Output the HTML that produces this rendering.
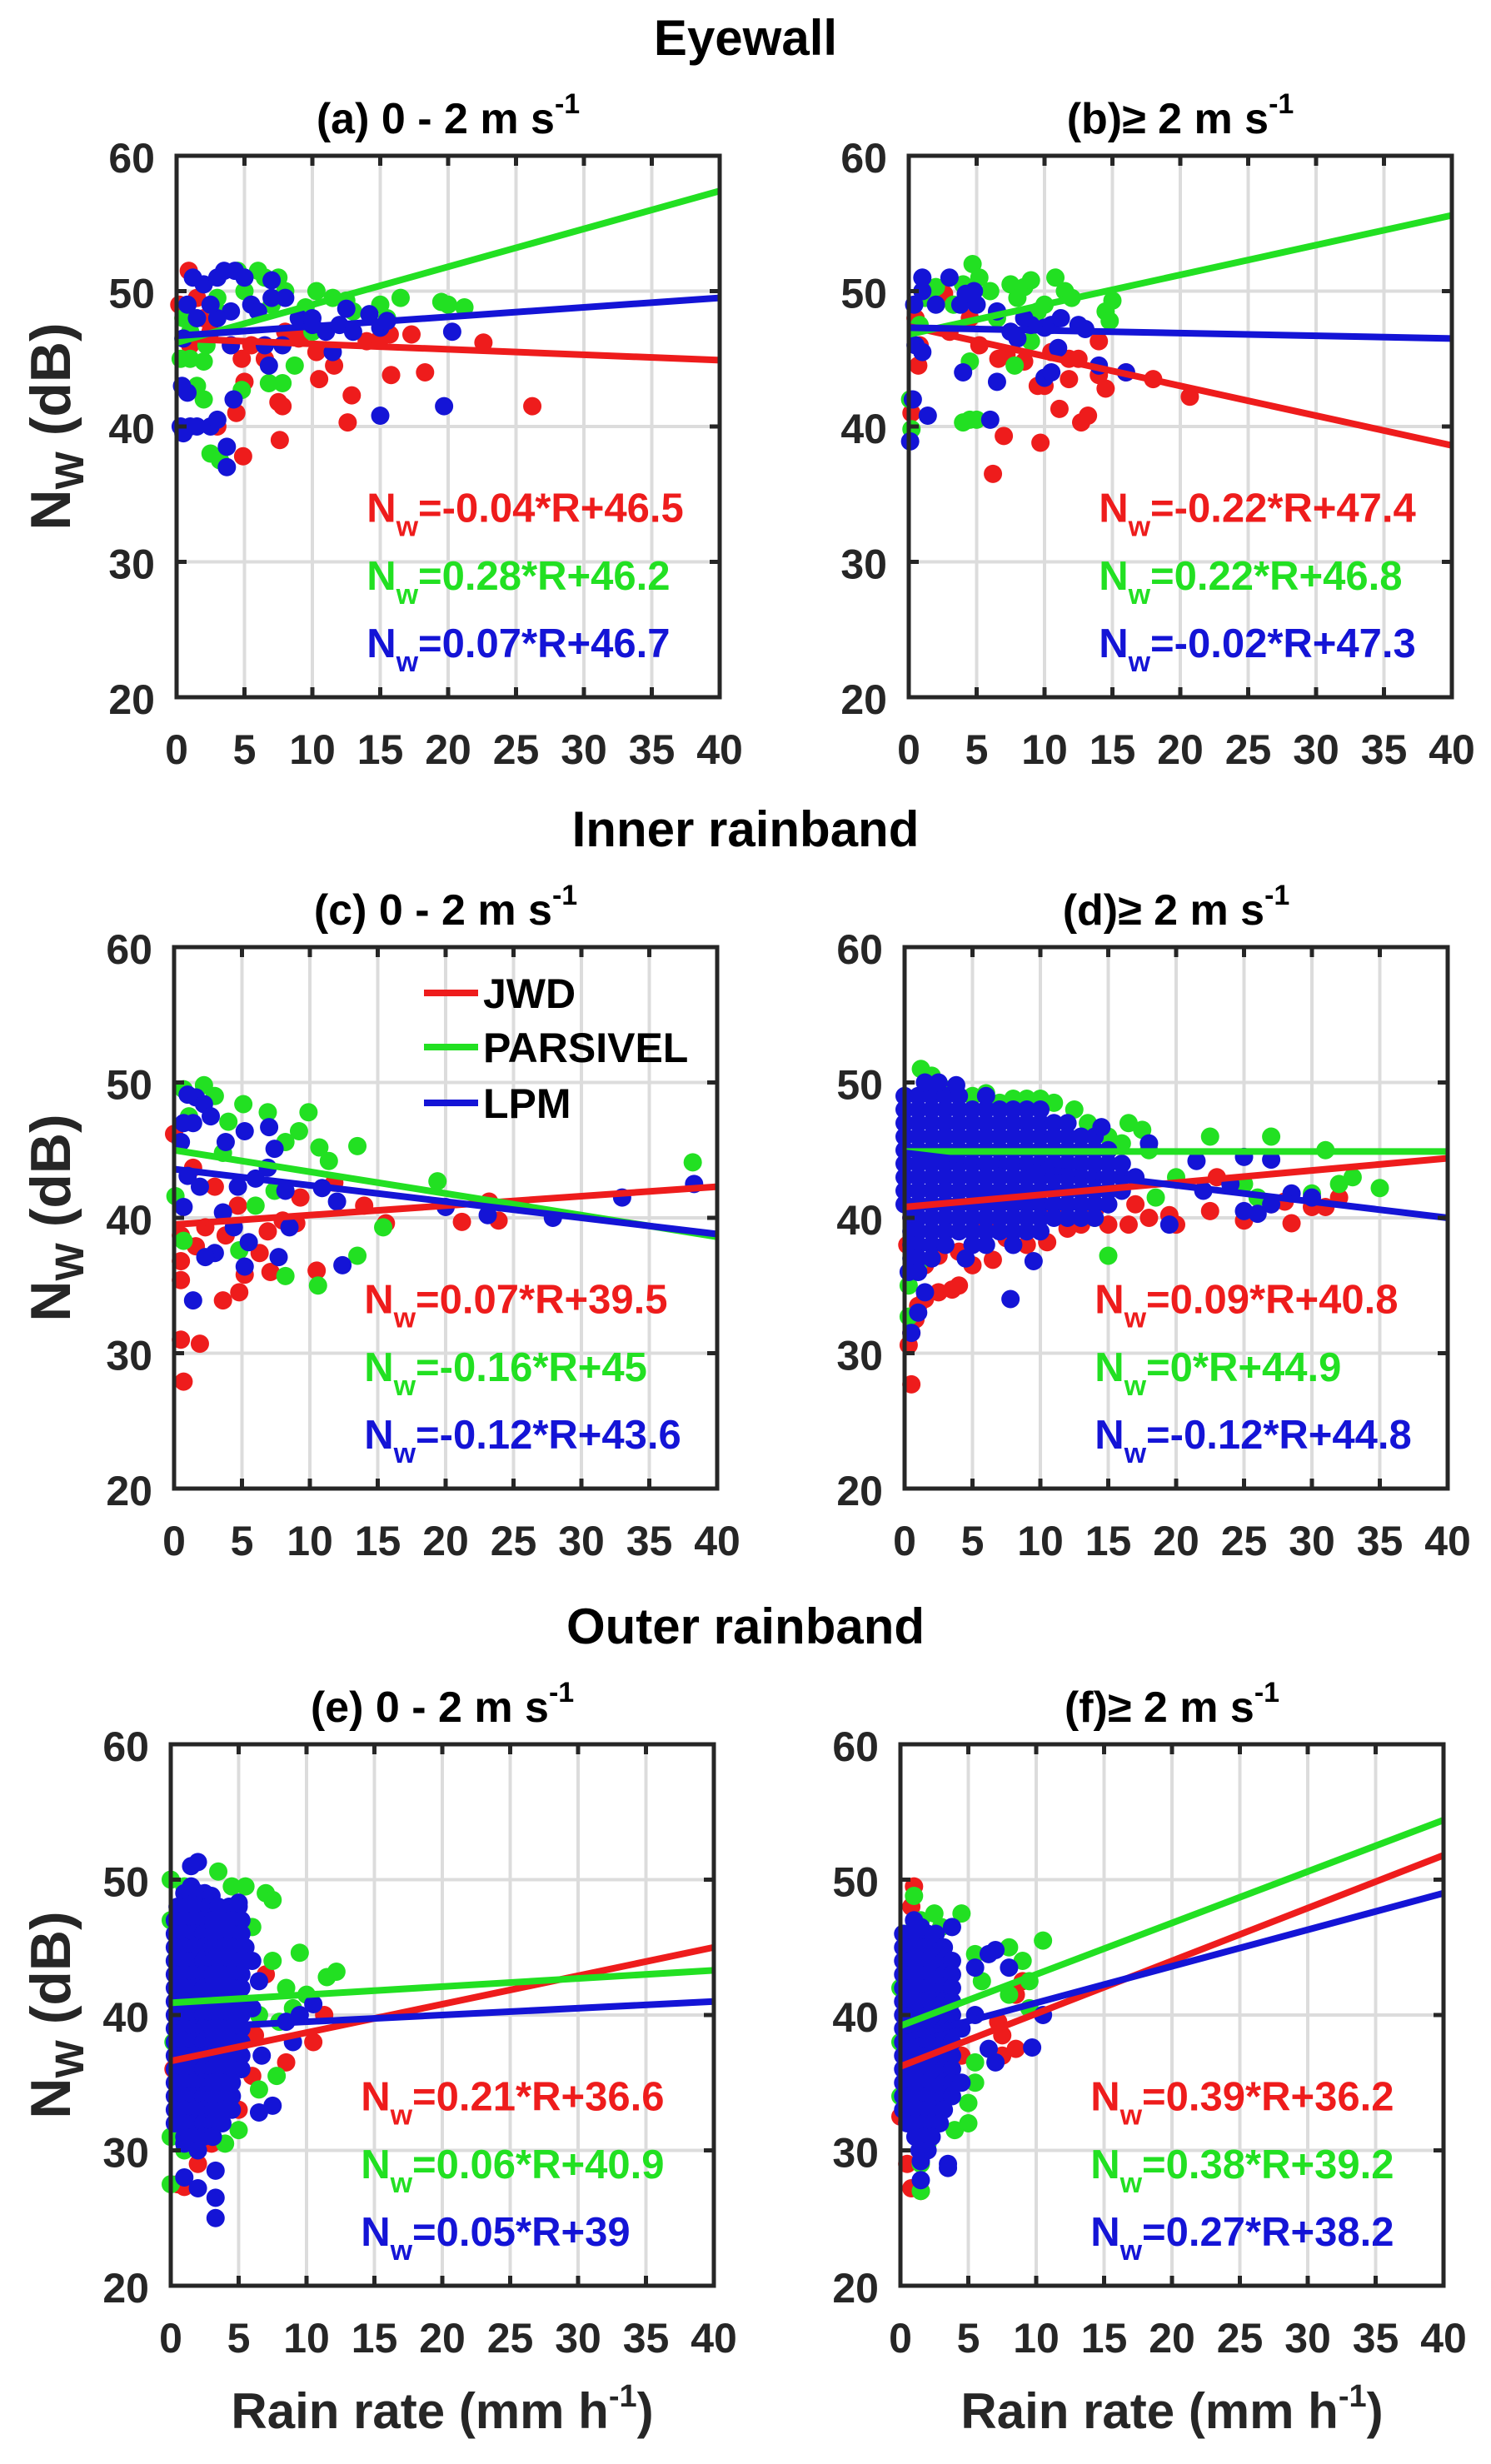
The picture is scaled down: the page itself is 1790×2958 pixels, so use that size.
<!DOCTYPE html>
<html>
<head>
<meta charset="utf-8">
<style>
html,body{margin:0;padding:0;background:#fff;}
svg{display:block;}
text{font-family:"Liberation Sans",Arial,sans-serif;font-weight:bold;}
</style>
</head>
<body>
<svg id="fig" xmlns="http://www.w3.org/2000/svg" width="1790" height="2958" viewBox="0 0 1790 2958">
<rect x="0" y="0" width="1790" height="2958" fill="#fff"/>
<text x="895" y="66" font-size="60" text-anchor="middle" fill="#000">Eyewall</text>
<text x="895" y="1016" font-size="60" text-anchor="middle" fill="#000">Inner rainband</text>
<text x="895" y="1973" font-size="60" text-anchor="middle" fill="#000">Outer rainband</text>
</svg>
<script>
// ===== data =====
const xTicks = [0,5,10,15,20,25,30,35,40];
const yTicks = [20,30,40,50,60];
const seriesNames = ["JWD","PARSIVEL","LPM"];
const seriesColors = ["#ee1c1c","#22e022","#1414d6"];

const fit_slopes_a = [-0.04,0.28,0.07];
const fit_intercepts_a = [46.5,46.2,46.7];
const fit_slopes_b = [-0.22,0.22,-0.02];
const fit_intercepts_b = [47.4,46.8,47.3];
const fit_slopes_c = [0.07,-0.16,-0.12];
const fit_intercepts_c = [39.5,45,43.6];
const fit_slopes_d = [0.09,0,-0.12];
const fit_intercepts_d = [40.8,44.9,44.8];
const fit_slopes_e = [0.21,0.06,0.05];
const fit_intercepts_e = [36.6,40.9,39];
const fit_slopes_f = [0.39,0.38,0.27];
const fit_intercepts_f = [36.2,39.2,38.2];

const a_jwd = [[0.9,51.5],[0.2,49],[1.5,49.5],[2.5,47],[4,46],[4.8,45],[5,43.3],[4.4,41],[4.9,37.8],[7.6,39],[7.5,41.8],[7.8,41.5],[6.5,45],[8,47],[9,46.5],[10.3,45.5],[10.5,43.5],[11.6,44.5],[12.6,40.3],[12.9,42.3],[14,46.3],[15,46.5],[15.8,43.8],[15.7,46.8],[17.3,46.8],[18.3,44],[22.6,46.2],[26.2,41.5],[3,40],[1,46],[2,48],[5.5,46],[9.5,47]];
const a_parsivel = [[0.3,45],[1,45],[1.5,43],[2,42],[2.2,46],[2.5,38],[3.2,37.5],[2,44.8],[3,49.5],[4.5,51.5],[5,50],[6,51.5],[6.5,51],[7.5,51],[8,50],[7,49],[8.7,44.5],[7.8,43.2],[6.8,43.2],[4.8,42.7],[9.5,48.8],[10.3,50],[11.5,49.5],[12.5,49.3],[13,48.5],[15,49],[16.5,49.5],[15.5,48],[19.5,49.2],[20,49],[21.2,48.8],[1,47],[0.5,48],[3,48.5],[10,47]];
const a_lpm = [[0.3,40],[0.4,43],[0.8,42.5],[1,40],[0.5,39.5],[1.5,40],[2.5,40],[3,40.5],[3.7,38.5],[3.7,37],[4.2,42],[0.8,49],[1.2,51],[2,50.5],[3,51],[3.5,51.5],[4.3,51.5],[5,51],[5.5,49],[4,48.5],[3,48],[4,46],[6.5,46],[6.8,44.5],[7,49.5],[7,50.8],[8,49.5],[7.8,46],[9,48],[10,47.5],[10,48],[11,47],[11.5,45.5],[12,47.5],[12.5,48.7],[13,47],[14.2,48.3],[15,47.3],[15.5,47.8],[15,40.8],[19.7,41.5],[20.3,47],[0.5,46.5],[1.5,48],[2.5,49],[6,48.5]];

const b_jwd = [[0.2,41],[0.7,44.5],[0.8,46],[0.5,48],[1.5,49.5],[2.6,49.8],[4.5,48],[5.2,46],[6.6,45],[7.2,45.3],[7,39.3],[6.2,36.5],[9.5,43],[10,43],[9.7,38.8],[10.5,45.5],[11.1,41.3],[11.8,45],[11.8,43.5],[12.5,45],[12.7,40.3],[13.2,40.8],[14,43.8],[14.5,42.8],[14,46.3],[16,44],[18,43.5],[20.7,42.2],[8.5,44.8],[3,47]];
const b_parsivel = [[0.1,42],[0.2,39.8],[0.8,47.5],[1.2,49.5],[2,50.3],[3.3,49],[4,50.5],[4.7,52],[5.2,51],[4.5,40.5],[4,40.3],[5,40.5],[4.5,44.8],[6,50],[7.5,50.5],[8,49.5],[8.5,50.3],[9,50.8],[9,46.3],[7.8,44.5],[10,49],[10.8,51],[11.5,50],[12,49.5],[14.5,48.5],[15,49.3],[14.8,47.8],[9.5,48.5],[6.5,48]];
const b_lpm = [[0.1,38.9],[0.3,42],[1.4,40.8],[0.5,46],[1,45.5],[0.4,49],[1,51],[1,50],[2,49],[3,51],[3.8,49],[4.2,49.8],[4.8,50],[5,49],[4,44],[6.5,43.3],[6,40.5],[6.5,48.5],[7.5,47],[8,46.5],[9,47.5],[10,47.3],[10.5,47.5],[11.2,48],[11,45.8],[10,43.6],[10.5,44],[12.5,47.5],[13,47.2],[14,44.5],[16,44],[8.5,48]];

const c_jwd = [[0,46.2],[0.5,38.7],[0.5,36.8],[0.5,35.4],[0.5,31],[1.9,30.7],[0.7,27.9],[3.6,33.9],[4.8,34.5],[5.2,35.8],[7.1,36],[10.5,36.1],[6.3,37.4],[3.8,38.7],[2.3,39.3],[1.6,37.9],[6.9,39],[9,39.6],[9.3,41.5],[14,40.9],[15.6,39.6],[21.2,39.7],[23.2,41.2],[23.9,39.8],[3,42.3],[1.4,43.7],[4.7,40.9],[8,39.8],[11.8,42.6]];
const c_parsivel = [[0.7,49.5],[2.2,49.8],[3,49],[4,47.1],[5.1,48.4],[6.9,47.8],[9.9,47.8],[9.2,46.4],[8.2,45.6],[10.7,45.2],[11.4,44.2],[13.5,45.3],[19.4,42.7],[38.2,44.1],[15.4,39.3],[13.5,37.2],[10.6,35],[8.2,35.7],[4.8,37.6],[0.7,38.3],[0.1,41.6],[6,40.9],[7.4,42],[3.6,44.8],[1.1,47.5]];
const c_lpm = [[1,49.1],[1.6,48.9],[2.2,48.4],[2.7,47.5],[0.7,47],[1.4,47],[0.5,45.6],[1,43.1],[1.9,42.3],[3.8,45.6],[5.2,46.4],[7,46.7],[7.4,45.1],[6,42.9],[4.7,42.3],[3.6,40.4],[4.4,39.3],[5.5,38.2],[5.2,36.4],[3,37.4],[2.3,37.1],[7.7,37.1],[8.5,39.3],[10.9,42.2],[12,41.2],[12.4,36.5],[1.4,33.9],[0.7,40.8],[20,40.8],[23.1,40.2],[27.9,40],[33,41.5],[38.3,42.5],[6.9,43.7],[8.2,42]];

const d_jwd = [[0.5,27.7],[0.3,30.6],[0.5,31.5],[0.8,32.5],[1,33.5],[1.5,34],[2.5,34.5],[3.5,34.7],[4,35],[1.5,36.5],[2.5,37.2],[4,37.5],[5,36.5],[6.5,36.9],[7.5,38.5],[9,38],[10.5,38.2],[12,39.2],[13,39.5],[15,39.5],[16.5,39.5],[18,40],[19.5,40.2],[20,39.5],[22.5,40.5],[25,39.8],[28.5,39.6],[30,40.8],[31,40.8],[32,41.5],[0.2,38],[0.5,40],[3,39],[6,39.5],[8,40],[11,40.5],[14,40.5],[17,41],[23,43],[27,41],[28,41.2]];
const d_parsivel = [[0.3,32.7],[0.3,35],[1,36.5],[1.2,51],[2,50.5],[3,49.5],[5,49],[6,49.2],[7,48.5],[8,48.8],[9,48.8],[10,48.8],[11,48.5],[12.5,48],[13.5,47],[15,46],[16.5,47],[17.5,46.5],[16,45.5],[18,45],[22.5,46],[27,46],[31,45],[33,43],[35,42.2],[25,42.5],[26,41.5],[20,43],[15,37.2],[14,40],[18.5,41.5],[30,41.8],[32,42.5]];
const d_lpm = [[0,49],[1,49],[2,49],[3,49],[4,49],[6,49],[1.5,50],[2.5,50],[3.8,49.8],
[0,48],[1,48],[2,48],[3,48],[4,48],[5,48],[6,48],[7,48],[8,48],[9,48],[10,48],
[0,47],[1,47],[2,47],[3,47],[4,47],[5,47],[6,47],[7,47],[8,47],[9,47],[10,47],[11,47],[12,47],
[0,46],[1,46],[2,46],[3,46],[4,46],[5,46],[6,46],[7,46],[8,46],[9,46],[10,46],[11,46],[12,46],[13,46],[14,46],
[0,45],[1,45],[2,45],[3,45],[4,45],[5,45],[6,45],[7,45],[8,45],[9,45],[10,45],[11,45],[12,45],[13,45],[14,45],[15,45],
[0,44],[1,44],[2,44],[3,44],[4,44],[5,44],[6,44],[7,44],[8,44],[9,44],[10,44],[11,44],[12,44],[13,44],[14,44],[15,44],[16,44],
[0,43],[1,43],[2,43],[3,43],[4,43],[5,43],[6,43],[7,43],[8,43],[9,43],[10,43],[11,43],[12,43],[13,43],[14,43],[15,43],[16,43],[17,43],
[0,42],[1,42],[2,42],[3,42],[4,42],[5,42],[6,42],[7,42],[8,42],[9,42],[10,42],[11,42],[12,42],[13,42],[14,42],[15,42],[16,42],
[0,41],[1,41],[2,41],[3,41],[4,41],[5,41],[6,41],[7,41],[8,41],[9,41],[10,41],[11,41],[12,41],[13,41],[14,41],[15,41],
[0.5,40],[1,40],[2,40],[3,40],[4,40],[5,40],[6,40],[7,40],[8,40],[9,40],[10,40],[11,40],[12,40],[13,40],[14,40],
[0.5,39],[1,39],[2,39],[3,39],[4,39],[5,39],[6,39],[7,39],[8,39],[9,39],[10,39],
[0.5,38],[1,38],[2,38],[3,38],[5,38],[6,38],[8,38],[0.5,37],[1,37],[2,37],[4.5,37],[0.3,36],[1,36],
[7.8,34],[0.5,31.5],[1,33],[1.5,34.5],[9.5,36.8],[19.5,39.5],[21.5,44.2],[25,44.5],[27,44.3],[26,40.3],[25,40.5],[28.5,41.8],[30,41.5],[14.5,46.7],[18,45.5],[22,42],[24,42.5],[27,41]];

const e_jwd = [[0.5,27.5],[1,27.3],[2,29],[3,30.5],[5,33],[6,35.5],[8.5,36.5],[10.5,38],[11.3,40],[7,43],[0.2,36],[0.5,45],[1,48],[6.2,38.5]];
const e_parsivel = [[0,27.5],[0,31],[0,47],[1,49.5],[3.5,50.6],[4.5,49.5],[5.5,49.5],[7,49],[7.5,48.5],[6,46.5],[7.5,44],[9.5,44.6],[11.5,42.8],[12.2,43.2],[10,41.5],[8.5,42],[7.8,35.5],[6.5,34.5],[5,31.5],[4,30.5],[1,30],[2,31],[0.5,35],[0.5,40],[0.3,44],[9,40.5],[8,39.5],[0,50],[0.2,38],[6.5,40]];
const e_lpm = [[1,49],[1.5,49.5],[2,49],[2.5,49],[3,48.8],[1.5,51],[2,51.3],
[0.5,48],[1.2,48],[2,48],[2.8,48],[3.5,48],[4.3,48],[5,48],
[0.3,47],[1,47],[1.7,47],[2.4,47],[3.1,47],[3.8,47],[4.5,47],[5.2,47],
[0.3,46],[1,46],[1.7,46],[2.4,46],[3.1,46],[3.8,46],[4.5,46],[5.2,46],
[0.3,45],[1,45],[1.7,45],[2.4,45],[3.1,45],[3.8,45],[4.5,45],[5.2,45],
[0.3,44],[1,44],[1.7,44],[2.4,44],[3.1,44],[3.8,44],[4.5,44],[5.2,44],
[0.3,43],[1,43],[1.7,43],[2.4,43],[3.1,43],[3.8,43],[4.5,43],[5.2,43],
[0.3,42],[1,42],[1.7,42],[2.4,42],[3.1,42],[3.8,42],[4.5,42],[5.2,42],
[0.3,41],[1,41],[1.7,41],[2.4,41],[3.1,41],[3.8,41],[4.5,41],[5.2,41],
[0.3,40],[1,40],[1.7,40],[2.4,40],[3.1,40],[3.8,40],[4.5,40],[5.2,40],
[0.3,39],[1,39],[1.7,39],[2.4,39],[3.1,39],[3.8,39],[4.5,39],[5.2,39],
[0.3,38],[1,38],[1.7,38],[2.4,38],[3.1,38],[3.8,38],[4.5,38],[5.2,38],
[0.3,37],[1,37],[1.7,37],[2.4,37],[3.1,37],[3.8,37],[4.5,37],[5.2,37],
[0.3,36],[1,36],[1.7,36],[2.4,36],[3.1,36],[3.8,36],[4.5,36],[5.2,36],
[0.3,35],[1,35],[1.7,35],[2.4,35],[3.1,35],[3.8,35],[4.5,35],
[0.3,34],[1,34],[1.7,34],[2.4,34],[3.1,34],[3.8,34],[4.5,34],
[0.3,33],[1,33],[1.7,33],[2.4,33],[3.1,33],[3.8,33],[4.5,33],
[0.3,32],[1,32],[1.7,32],[2.4,32],[3.1,32],[3.8,32],
[1,31],[1.7,31],[2.4,31],[3.1,31],[1,30.5],[2,30],
[3.3,28.5],[3.3,26.5],[3.3,25],[2,27.2],[1,28],[6.5,32.8],[7.5,33.3],[6.7,37],[8.5,39.5],[9,38],[9.5,40],[10.5,40.8],[6.5,42.5],[5.5,45],[5,48.3],[6,40.5],[6,44]];

const f_jwd = [[1,49.5],[0.8,48],[0.5,29],[0.8,27.2],[1.5,27],[0,32.5],[7.2,39.5],[7.5,38.5],[8.5,37.5],[7.5,37],[9,42.5],[8.5,41.5],[4.5,37],[0.2,38],[0.3,44],[3,35]];
const f_parsivel = [[1,48.8],[1.5,47],[2.5,47.5],[4.5,47.5],[5.5,44.5],[8,45],[9,44],[10.5,45.5],[9.5,42.5],[8,41.5],[5.5,36.5],[5.5,35],[5,33.5],[5,32],[4,31.5],[2,30.5],[1.5,27],[1.5,29],[0,42],[0,38],[0,34],[0.3,46],[3,46.5],[6,42.5],[9.5,40.5]];
const f_lpm = [[0.2,46],[0.8,46],[1.4,46],[2,46],[2.6,46],[0.2,45],[0.8,45],[1.4,45],[2,45],[2.6,45],[3.2,45],
[0.2,44],[0.8,44],[1.4,44],[2,44],[2.6,44],[3.2,44],[3.8,44],[0.2,43],[0.8,43],[1.4,43],[2,43],[2.6,43],[3.2,43],[3.8,43],
[0.2,42],[0.8,42],[1.4,42],[2,42],[2.6,42],[3.2,42],[3.8,42],[0.2,41],[0.8,41],[1.4,41],[2,41],[2.6,41],[3.2,41],[3.8,41],
[0.2,40],[0.8,40],[1.4,40],[2,40],[2.6,40],[3.2,40],[3.8,40],[0.2,39],[0.8,39],[1.4,39],[2,39],[2.6,39],[3.2,39],[3.8,39],
[0.2,38],[0.8,38],[1.4,38],[2,38],[2.6,38],[3.2,38],[3.8,38],[0.2,37],[0.8,37],[1.4,37],[2,37],[2.6,37],[3.2,37],[3.8,37],
[0.2,36],[0.8,36],[1.4,36],[2,36],[2.6,36],[3.2,36],[3.8,36],[0.2,35],[0.8,35],[1.4,35],[2,35],[2.6,35],[3.2,35],[3.8,35],
[0.2,34],[0.8,34],[1.4,34],[2,34],[2.6,34],[3.2,34],[3.8,34],[0.2,33],[0.8,33],[1.4,33],[2,33],[2.6,33],[3.2,33],
[0.5,32],[1.1,32],[1.7,32],[2.3,32],[2.9,32],[1.1,31],[1.7,31],[2.3,31],[1.4,30],[2,30],
[3.8,46.5],[6.5,44.5],[7,44.8],[8,43.5],[5.5,43.5],[5.5,40],[6.5,37.5],[7,36.5],[9.7,37.6],[10.5,40],[3.5,29],[3.5,28.7],[1.5,27.8],[1.5,29.2],[1,47],[1.5,46.5],[4.5,39],[4.5,35]];

// ===== layout (not data) =====
const W = 652, H = 650;
const panels = [
  {id:"a", x0:212,  y0:187,  title:"(a) 0 - 2 m s", left:true,  bottom:false, pts:[a_jwd,a_parsivel,a_lpm], sl:fit_slopes_a, ic:fit_intercepts_a},
  {id:"b", x0:1091, y0:187,  title:"(b)\u2265 2 m s", left:false, bottom:false, pts:[b_jwd,b_parsivel,b_lpm], sl:fit_slopes_b, ic:fit_intercepts_b},
  {id:"c", x0:209,  y0:1137, title:"(c) 0 - 2 m s", left:true,  bottom:false, pts:[c_jwd,c_parsivel,c_lpm], sl:fit_slopes_c, ic:fit_intercepts_c, legend:true},
  {id:"d", x0:1086, y0:1137, title:"(d)\u2265 2 m s", left:false, bottom:false, pts:[d_jwd,d_parsivel,d_lpm], sl:fit_slopes_d, ic:fit_intercepts_d},
  {id:"e", x0:205,  y0:2094, title:"(e) 0 - 2 m s", left:true,  bottom:true,  pts:[e_jwd,e_parsivel,e_lpm], sl:fit_slopes_e, ic:fit_intercepts_e},
  {id:"f", x0:1081, y0:2094, title:"(f)\u2265 2 m s", left:false, bottom:true,  pts:[f_jwd,f_parsivel,f_lpm], sl:fit_slopes_f, ic:fit_intercepts_f}
];

const NS = "http://www.w3.org/2000/svg";
const svg = document.getElementById("fig");
function mk(tag, attrs, parent) {
  const e = document.createElementNS(NS, tag);
  for (const k in attrs) e.setAttribute(k, attrs[k]);
  (parent || svg).appendChild(e);
  return e;
}

panels.forEach(p => {
  const xs = r => p.x0 + r / 40 * W;
  const ys = n => p.y0 + (60 - n) / 40 * H;
  const g = mk("g", {});
  
  

  xTicks.forEach(t => {
    if (t === 0 || t === 40) return;
    const l = mk("line", {x1:xs(t), x2:xs(t), y1:p.y0, y2:p.y0+H, stroke:"#dcdcdc", "stroke-width":4}, g);
    
    
  });
  yTicks.forEach(t => {
    if (t === 20 || t === 60) return;
    const l = mk("line", {x1:p.x0, x2:p.x0+W, y1:ys(t), y2:ys(t), stroke:"#dcdcdc", "stroke-width":4}, g);
    
    
  });

  p.pts.forEach((arr, si) => {
    const sg = mk("g", {fill: seriesColors[si]}, g);
    
    
    arr.forEach(pt => {
      const c = mk("circle", {cx:xs(pt[0]), cy:ys(pt[1]), r:11}, sg);
      
      
    });
  });

  p.sl.forEach((s, si) => {
    const l = mk("line", {x1:xs(0), y1:ys(p.ic[si]), x2:xs(40), y2:ys(p.ic[si] + s*40), stroke:seriesColors[si], "stroke-width":8}, g);
    
    
  });

  const box = mk("rect", {x:p.x0, y:p.y0, width:W, height:H, fill:"none", stroke:"#262626", "stroke-width":5}, g);
  
  

  xTicks.forEach(t => {
    const t1 = mk("line", {x1:xs(t), x2:xs(t), y1:p.y0+H, y2:p.y0+H-12, stroke:"#262626", "stroke-width":5}, g);
    
    
    const t2 = mk("line", {x1:xs(t), x2:xs(t), y1:p.y0, y2:p.y0+12, stroke:"#262626", "stroke-width":5}, g);
    
    
    const lb = mk("text", {x:xs(t), y:p.y0+H+80, "font-size":50, "text-anchor":"middle", fill:"#262626"}, g);
    lb.textContent = String(t);
    
    
  });
  yTicks.forEach(t => {
    const t1 = mk("line", {x1:p.x0, x2:p.x0+12, y1:ys(t), y2:ys(t), stroke:"#262626", "stroke-width":5}, g);
    
    
    const t2 = mk("line", {x1:p.x0+W, x2:p.x0+W-12, y1:ys(t), y2:ys(t), stroke:"#262626", "stroke-width":5}, g);
    
    
    const lb = mk("text", {x:p.x0-26, y:ys(t)+20, "font-size":50, "text-anchor":"end", fill:"#262626"}, g);
    lb.textContent = String(t);
    
    
  });

  const tt = mk("text", {x:p.x0+W/2, y:p.y0-27, "font-size":52, "text-anchor":"middle", fill:"#000"}, g);
  
  
  const ts1 = mk("tspan", {}, tt);
  ts1.textContent = p.title;
  const ts2 = mk("tspan", {"font-size":34, dy:-24}, tt);
  ts2.textContent = "-1";

  const eqN = [34, 29, 24];
  p.sl.forEach((s, si) => {
    const et = mk("text", {x:xs(14), y:ys(eqN[si])+17, "font-size":49, fill:seriesColors[si]}, g);
    
    
    const e1 = mk("tspan", {}, et); e1.textContent = "N";
    const e2 = mk("tspan", {"font-size":34, dy:17}, et); e2.textContent = "w";
    const e3 = mk("tspan", {dy:-17}, et); e3.textContent = "=" + s + "*R+" + p.ic[si];
  });

  if (p.left) {
    const cy = p.y0 + H/2;
    const yl = mk("text", {x:0, y:0, "font-size":68, "text-anchor":"middle", fill:"#262626", transform:"translate(84," + cy + ") rotate(-90)"}, g);
    
    
    const y1 = mk("tspan", {}, yl); y1.textContent = "N";
    const y2 = mk("tspan", {"font-size":48, dy:16}, yl); y2.textContent = "W";
    const y3 = mk("tspan", {dy:-16}, yl); y3.textContent = " (dB)";
  }
  if (p.bottom) {
    const xl = mk("text", {x:p.x0+W/2, y:2915, "font-size":60, "text-anchor":"middle", fill:"#262626"}, g);
    
    
    const x1 = mk("tspan", {}, xl); x1.textContent = "Rain rate (mm h";
    const x2 = mk("tspan", {"font-size":38, dy:-26}, xl); x2.textContent = "-1";
    const x3 = mk("tspan", {dy:26}, xl); x3.textContent = ")";
  }
  if (p.legend) {
    const lg = mk("g", {}, g);
    
    
    const rowsY = [1192, 1257, 1324];
    seriesNames.forEach((nm, si) => {
      const ll = mk("line", {x1:509, x2:574, y1:rowsY[si], y2:rowsY[si], stroke:seriesColors[si], "stroke-width":8}, lg);
      
      
      const lt = mk("text", {x:580, y:rowsY[si]+18, "font-size":50, fill:"#000"}, lg);
      lt.textContent = nm;
      
      
    });
  }
});
</script>
</body>
</html>
